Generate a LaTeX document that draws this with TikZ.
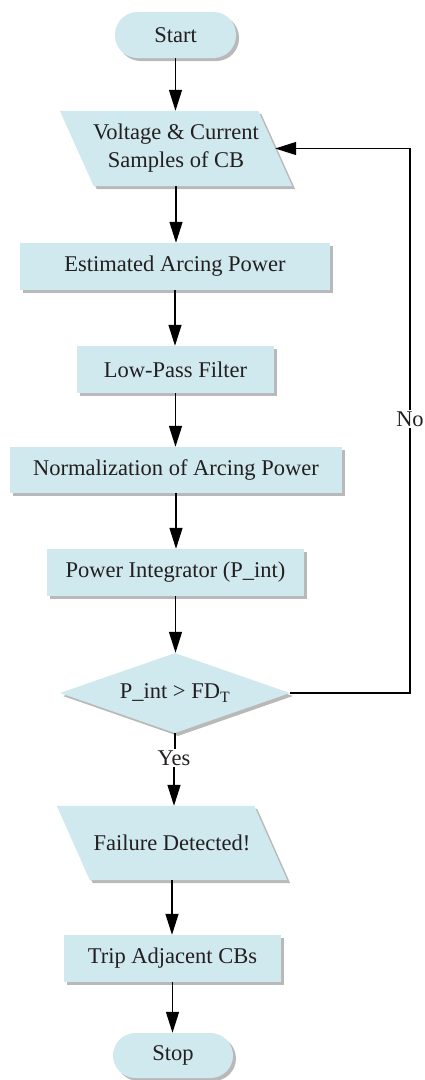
\documentclass[tikz,border=0pt]{standalone}
\usepackage{fontspec}
\setmainfont{Liberation Serif}
\usetikzlibrary{shapes.geometric,arrows.meta,shadows}
\pgfdeclarelayer{background}
\pgfsetlayers{background,main}
\definecolor{boxfill}{RGB}{207,233,238}
\definecolor{txt}{RGB}{35,31,32}
\tikzset{
  base/.style={text=txt, font=\rmfamily\fontsize{22.5}{28}\selectfont, inner sep=0pt, align=center},
  shad/.style={drop shadow={shadow xshift=3pt, shadow yshift=-3pt, fill=black!50, opacity=0.55}},
  procbox/.style={base, rectangle, fill=boxfill, shad},
  termbox/.style={base, rectangle, rounded corners=22.5pt, fill=boxfill, shad},
  decbox/.style={base, diamond, aspect=2.875, fill=boxfill, shad},
  iobox/.style={base, rectangle},
  iofill/.style={fill=boxfill, shad},
  lbl/.style={text=txt, font=\rmfamily\fontsize{22.5}{28}\selectfont, fill=white, inner sep=1pt},
  conn/.style={black, line width=1.3pt, -{Triangle[length=21pt,width=13pt]}},
  line/.style={black, line width=1.3pt}
}
\begin{document}
\begin{tikzpicture}[x=1pt,y=-1pt]
\useasboundingbox (0,0) rectangle (424,1080);
\node[termbox, minimum width=121pt, minimum height=46pt] (start) at (175.5,35) {Start};
\node[iobox, minimum width=198pt, minimum height=75pt] (volt) at (176,148.5) {Voltage \& Current\\Samples of CB};
\node[procbox, minimum width=310pt, minimum height=47pt] (est) at (175,266.5) {Estimated Arcing Power};
\node[procbox, minimum width=197pt, minimum height=47pt] (lpf) at (175.5,369.5) {Low-Pass Filter};
\node[procbox, minimum width=332pt, minimum height=46pt] (norm) at (176,470) {Normalization of Arcing Power};
\node[procbox, minimum width=257pt, minimum height=47pt] (pint) at (175.5,572.5) {Power Integrator (P\_int)};
\node[decbox, minimum width=230pt, minimum height=80pt] (dec) at (175,693) {P\_int > FD\textsubscript{T}};
\node[iobox, minimum width=197pt, minimum height=74pt] (fail) at (172,843) {Failure Detected!};
\node[procbox, minimum width=217pt, minimum height=47pt] (trip) at (172.5,958.5) {Trip Adjacent CBs};
\node[termbox, minimum width=120pt, minimum height=45pt] (stop) at (173,1055.5) {Stop};

\begin{pgfonlayer}{background}
\fill[iofill] ([xshift=-17pt]volt.north west) -- ([xshift=-17pt]volt.north east) -- ([xshift=17pt]volt.south east) -- ([xshift=17pt]volt.south west) -- cycle;
\fill[iofill] ([xshift=-16.5pt]fail.north west) -- ([xshift=-16.5pt]fail.north east) -- ([xshift=16.5pt]fail.south east) -- ([xshift=16.5pt]fail.south west) -- cycle;
\end{pgfonlayer}

\node[lbl] (yes) at (174,758) {Yes};
\node[lbl] (no) at (410,419) {No};
\coordinate (c1) at (410,693);
\coordinate (c2) at (410,148.5);

\draw[conn] (start.south) -- (start.south |- volt.north);
\draw[conn] (volt.south) -- (volt.south |- est.north);
\draw[conn] (est.south) -- (est.south |- lpf.north);
\draw[conn] (lpf.south) -- (lpf.south |- norm.north);
\draw[conn] (norm.south) -- (norm.south |- pint.north);
\draw[conn] (pint.south) -- (pint.south |- dec.north);
\draw[line] (dec.south) -- (dec.south |- yes.north);
\draw[conn] (yes.south) -- (yes.south |- fail.north);
\draw[conn] (fail.south) -- (fail.south |- trip.north);
\draw[conn] (trip.south) -- (trip.south |- stop.north);
\draw[line] (dec.east) -- (c1) -- (no.south);
\draw[conn] (no.north) -- (c2) -- (volt.east);
\end{tikzpicture}
\end{document}
